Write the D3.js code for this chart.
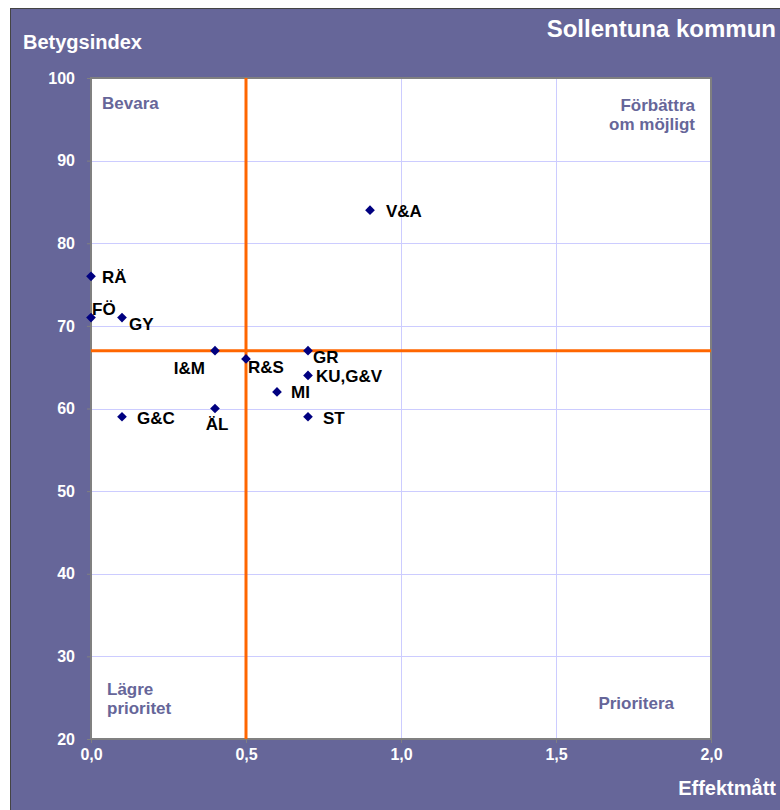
<!DOCTYPE html>
<html>
<head>
<meta charset="utf-8">
<script src="https://cdn.jsdelivr.net/npm/d3@7"></script>
<style>
  body { margin: 0; background: #fff; }
  svg { display: block; font-family: "Liberation Sans", Arial, sans-serif; font-weight: bold; }
</style>
</head>
<body>
<script>
// Data
const codes = ['V&A', 'RÄ', 'FÖ', 'GY', 'I&M', 'R&S', 'GR', 'KU,G&V', 'MI', 'G&C', 'ÄL', 'ST'];
const effekt = [0.9, 0.0, 0.0, 0.1, 0.4, 0.5, 0.7, 0.7, 0.6, 0.1, 0.4, 0.7];
const betyg = [84, 76, 71, 71, 67, 66, 67, 64, 62, 59, 60, 59];
const xTicks = [0, 0.5, 1, 1.5, 2];
const yTicks = [20, 30, 40, 50, 60, 70, 80, 90, 100];
const refX = 0.5;
const refY = 67;

// label placement next to each point: [dx, dy, anchor]
const labelPos = {
	'V&A': [16, 1, 'start'],
	'RÄ': [11, 1, 'start'],
	'FÖ': [1, -9, 'start'],
	'GY': [7, 6, 'start'],
	'I&M': [-10, 17, 'end'],
	'R&S': [2, 8, 'start'],
	'GR': [5, 6, 'start'],
	'KU,G&V': [8, 1, 'start'],
	'MI': [14, 0, 'start'],
	'G&C': [15, 1, 'start'],
	'ÄL': [2, 16, 'middle'],
	'ST': [15, 1, 'start'],
};

const width = 780;
const height = 810;
const plot = { left: 91, right: 711, top: 78, bottom: 739 };
const purple = '#666699';
const font = '"Liberation Sans", Arial, sans-serif';

const x = d3.scaleLinear().domain([0, 2]).range([plot.left, plot.right]);
const y = d3.scaleLinear().domain([20, 100]).range([plot.bottom, plot.top]);

const svg = d3.select('body')
	.append('svg')
	.attr('width', width)
	.attr('height', height);

// background frame
svg.append('rect')
	.attr('x', 10.5)
	.attr('y', 8.5)
	.attr('width', width)
	.attr('height', height)
	.attr('fill', purple)
	.attr('stroke', '#444');

// plot area
svg.append('rect')
	.attr('x', plot.left)
	.attr('y', plot.top)
	.attr('width', plot.right - plot.left)
	.attr('height', plot.bottom - plot.top)
	.attr('fill', '#fff');

// grid
const grid = svg.append('g').attr('stroke', '#ccccff').attr('stroke-width', 1);
grid.selectAll('.h')
	.data(yTicks.slice(1, -1))
	.join('line')
	.attr('x1', plot.left)
	.attr('x2', plot.right)
	.attr('y1', (d) => Math.round(y(d)) + 0.5)
	.attr('y2', (d) => Math.round(y(d)) + 0.5);
grid.selectAll('.v')
	.data(xTicks.slice(1, -1))
	.join('line')
	.attr('y1', plot.top)
	.attr('y2', plot.bottom)
	.attr('x1', (d) => Math.round(x(d)) + 0.5)
	.attr('x2', (d) => Math.round(x(d)) + 0.5);

// plot border
svg.append('rect')
	.attr('x', plot.left)
	.attr('y', plot.top)
	.attr('width', plot.right - plot.left)
	.attr('height', plot.bottom - plot.top)
	.attr('fill', 'none')
	.attr('stroke', '#808080')
	.attr('stroke-width', 2);

// axes
const fmt = (d) => d3.format('.1f')(d).replace('.', ',');

const styleTicks = (g) =>
	g.selectAll('text')
		.attr('fill', '#fff')
		.attr('font-size', 16)
		.attr('font-weight', 'bold')
		.attr('font-family', font);

const xAxis = (g) =>
	g
		.attr('transform', `translate(0,${plot.bottom})`)
		.call(d3.axisBottom(x).tickValues(xTicks).tickFormat(fmt).tickSize(4).tickPadding(6))
		.call((g) => g.select('.domain').remove())
		.call((g) => g.selectAll('line').attr('stroke', '#808080'))
		.call(styleTicks);

const yAxis = (g) =>
	g
		.attr('transform', `translate(${plot.left},0)`)
		.call(d3.axisLeft(y).tickValues(yTicks).tickSize(4).tickPadding(12))
		.call((g) => g.select('.domain').remove())
		.call((g) => g.selectAll('line').attr('stroke', '#808080'))
		.call(styleTicks);

svg.append('g').call(xAxis);
svg.append('g').call(yAxis);

// reference lines
svg.append('g')
	.attr('stroke', '#ff6600')
	.attr('stroke-width', 3)
	.call((g) =>
		g.append('line')
			.attr('x1', x(refX)).attr('x2', x(refX))
			.attr('y1', plot.top).attr('y2', plot.bottom)
	)
	.call((g) =>
		g.append('line')
			.attr('x1', plot.left).attr('x2', plot.right)
			.attr('y1', y(refY)).attr('y2', y(refY))
	);

// quadrant labels
const quad = svg.append('g').attr('fill', purple).attr('font-size', 17);
quad.append('text').attr('x', 102).attr('y', 109).text('Bevara');
quad.append('text').attr('x', 695).attr('y', 111).attr('text-anchor', 'end').text('Förbättra');
quad.append('text').attr('x', 695).attr('y', 130).attr('text-anchor', 'end').text('om möjligt');
quad.append('text').attr('x', 107).attr('y', 695).text('Lägre');
quad.append('text').attr('x', 107).attr('y', 714).text('prioritet');
quad.append('text').attr('x', 674).attr('y', 709).attr('text-anchor', 'end').text('Prioritera');

// points
const pts = codes.map((c, i) => ({ code: c, x: effekt[i], y: betyg[i] }));

svg.append('g')
	.attr('fill', '#000080')
	.selectAll('path')
	.data(pts)
	.join('path')
	.attr('d', d3.symbol(d3.symbolDiamond2, 60))
	.attr('transform', (d) => `translate(${x(d.x)},${y(d.y)})`);

svg.append('g')
	.attr('fill', '#000')
	.attr('font-size', 17)
	.selectAll('text')
	.data(pts)
	.join('text')
	.attr('dy', '0.35em')
	.attr('x', (d) => x(d.x) + labelPos[d.code][0])
	.attr('y', (d) => y(d.y) + labelPos[d.code][1])
	.attr('text-anchor', (d) => labelPos[d.code][2])
	.text((d) => d.code);

// titles
svg.append('text')
	.attr('x', 776).attr('y', 37)
	.attr('text-anchor', 'end')
	.attr('fill', '#fff')
	.attr('font-size', 24)
	.text('Sollentuna kommun');

svg.append('text')
	.attr('x', 23).attr('y', 49)
	.attr('fill', '#fff')
	.attr('font-size', 20)
	.text('Betygsindex');

svg.append('text')
	.attr('x', 776).attr('y', 795)
	.attr('text-anchor', 'end')
	.attr('fill', '#fff')
	.attr('font-size', 20)
	.text('Effektmått');
</script>
</body>
</html>
